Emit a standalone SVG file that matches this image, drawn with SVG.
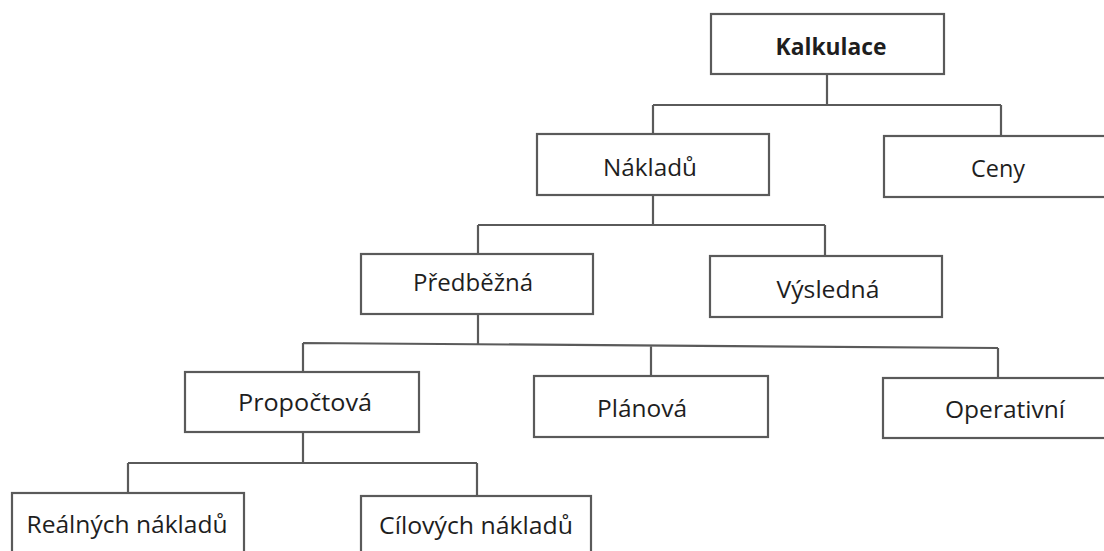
<svg xmlns="http://www.w3.org/2000/svg" width="1104" height="551" viewBox="0 0 1104 551">
<style>
.box{fill:#fff;stroke:#5a5a5a;stroke-width:2.2}
.lbl{font-family:"Open Sans","Liberation Sans",sans-serif;font-size:23.5px;fill:#1e1e1e;text-anchor:middle}
.b{font-weight:bold}
.con{fill:none;stroke:#5a5a5a;stroke-width:2.2}
</style>
<rect width="1104" height="551" fill="#fff"/>
<g id="connectors" class="con">
<path d="M827,74 V105 M653,105 H1001 M653,105 V134 M1001,105 V136"/>
<path d="M653,195 V225 M478,225 H825 M478,225 V254 M825,225 V256"/>
<path d="M478,314 V344 M303,343 L998,348 M303,343 V372 M651,345 V376 M998,348 V378"/>
<path d="M303,432 V463 M128,463 H477 M128,463 V493 M477,463 V496"/>
</g>
<g id="kalkulace"><rect class="box" x="711" y="14" width="233" height="60"/><text class="lbl b" x="831" y="55" textLength="111" lengthAdjust="spacingAndGlyphs">Kalkulace</text></g>
<g id="nakladu"><rect class="box" x="537" y="134" width="232" height="61"/><text class="lbl" x="650" y="176" textLength="94" lengthAdjust="spacingAndGlyphs">Nákladů</text></g>
<g id="ceny"><rect class="box" x="884" y="136" width="230" height="61"/><text class="lbl" x="998" y="177" textLength="54" lengthAdjust="spacingAndGlyphs">Ceny</text></g>
<g id="predbezna"><rect class="box" x="361" y="254" width="232" height="60"/><text class="lbl" x="473" y="291" textLength="120" lengthAdjust="spacingAndGlyphs">Předběžná</text></g>
<g id="vysledna"><rect class="box" x="710" y="256" width="232" height="61"/><text class="lbl" x="828" y="298" textLength="103" lengthAdjust="spacingAndGlyphs">Výsledná</text></g>
<g id="propoctova"><rect class="box" x="185" y="372" width="234" height="60"/><text class="lbl" x="305" y="411" textLength="134" lengthAdjust="spacingAndGlyphs">Propočtová</text></g>
<g id="planova"><rect class="box" x="534" y="376" width="234" height="61"/><text class="lbl" x="642" y="417" textLength="90" lengthAdjust="spacingAndGlyphs">Plánová</text></g>
<g id="operativni"><rect class="box" x="883" y="378" width="231" height="60"/><text class="lbl" x="1005" y="418" textLength="120" lengthAdjust="spacingAndGlyphs">Operativní</text></g>
<g id="realnych"><rect class="box" x="12" y="493" width="232" height="70"/><text class="lbl" x="127" y="533" textLength="201" lengthAdjust="spacingAndGlyphs">Reálných nákladů</text></g>
<g id="cilovych"><rect class="box" x="361" y="496" width="230" height="70"/><text class="lbl" x="476" y="534" textLength="194" lengthAdjust="spacingAndGlyphs">Cílových nákladů</text></g>
</svg>
